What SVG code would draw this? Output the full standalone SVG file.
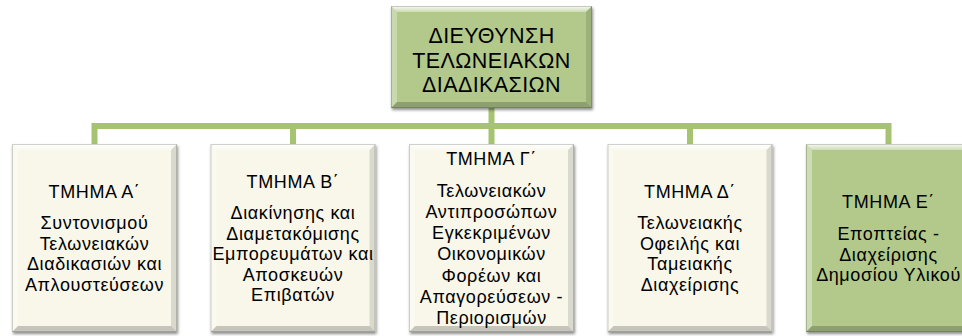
<svg xmlns="http://www.w3.org/2000/svg" xmlns:xlink="http://www.w3.org/1999/xlink" width="962" height="336" viewBox="0 0 962 336">
  <style>
    .t { font-family: "Liberation Sans", Arial, "DejaVu Sans", sans-serif; fill: #000; text-anchor: middle; }
    .head { font-size: 21.5px; letter-spacing: 0.4px; }
    .sub { font-size: 18px; letter-spacing: 0.6px; }
    .ivory { fill: #f8f7ea; }
    .green { fill: #b2c98b; }
    .link { stroke: #a5c371; stroke-width: 6; fill: none; }
  </style>
  <defs>
    <filter id="shadow" x="-10%" y="-10%" width="120%" height="120%">
      <feDropShadow dx="1" dy="2" stdDeviation="1.6" flood-color="#000" flood-opacity="0.45"/>
    </filter>
    <linearGradient id="topLight" x1="0" y1="0" x2="0" y2="1">
      <stop offset="0" stop-color="#fff" stop-opacity="0.9"/>
      <stop offset="1" stop-color="#fff" stop-opacity="0.35"/>
    </linearGradient>
    <!-- bevel overlay for a 165 x 188 department box -->
    <g id="bevelDept">
      <polygon points="0,0 165,0 159,6 6,6" fill="url(#topLight)"/>
      <polygon points="0,0 6,6 6,182 0,188" fill="#fff" fill-opacity="0.35"/>
      <polygon points="165,0 165,188 159,182 159,6" fill="#000" fill-opacity="0.12"/>
      <polygon points="0,188 165,188 159,182 6,182" fill="#000" fill-opacity="0.2"/>
      <rect x="0.5" y="0.5" width="164" height="187" fill="none" stroke="#000" stroke-opacity="0.18"/>
    </g>
    <!-- bevel overlay for the 201 x 102 directorate box -->
    <g id="bevelHead">
      <polygon points="0,0 201,0 195,6 6,6" fill="url(#topLight)"/>
      <polygon points="0,0 6,6 6,96 0,102" fill="#fff" fill-opacity="0.3"/>
      <polygon points="201,0 201,102 195,96 195,6" fill="#000" fill-opacity="0.12"/>
      <polygon points="0,102 201,102 195,96 6,96" fill="#000" fill-opacity="0.2"/>
      <rect x="0.5" y="0.5" width="200" height="101" fill="none" stroke="#000" stroke-opacity="0.18"/>
    </g>
  </defs>

  <rect width="962" height="336" fill="#fff"/>

  <!-- connectors -->
  <g id="connectors">
    <path class="link" d="M491.5,108 V146"/>
    <path class="link" d="M94.5,146 V126 H888.5 V146"/>
    <path class="link" d="M293,126 V146"/>
    <path class="link" d="M690,126 V146"/>
  </g>

  <!-- directorate -->
  <g id="directorate">
    <rect class="green" x="391" y="6" width="201" height="102" filter="url(#shadow)"/>
    <use xlink:href="#bevelHead" href="#bevelHead" transform="translate(391,6)"/>
    <text class="t head" x="491.5" y="43">ΔΙΕΥΘΥΝΣΗ</text>
    <text class="t head" x="491.5" y="67.5">ΤΕΛΩΝΕΙΑΚΩΝ</text>
    <text class="t head" x="491.5" y="92">ΔΙΑΔΙΚΑΣΙΩΝ</text>
  </g>

  <!-- department A -->
  <g id="dept-a">
    <rect class="ivory" x="12" y="144" width="165" height="188" filter="url(#shadow)"/>
    <use xlink:href="#bevelDept" href="#bevelDept" transform="translate(12,144)"/>
    <text class="t sub" x="94.5" y="198">ΤΜΗΜΑ Α΄</text>
    <text class="t sub" x="94.5" y="229">Συντονισμού</text>
    <text class="t sub" x="94.5" y="249.5">Τελωνειακών</text>
    <text class="t sub" x="94.5" y="270">Διαδικασιών και</text>
    <text class="t sub" x="94.5" y="290.5">Απλουστεύσεων</text>
  </g>

  <!-- department B -->
  <g id="dept-b">
    <rect class="ivory" x="210.5" y="144" width="165" height="188" filter="url(#shadow)"/>
    <use xlink:href="#bevelDept" href="#bevelDept" transform="translate(210.5,144)"/>
    <text class="t sub" x="293" y="188">ΤΜΗΜΑ Β΄</text>
    <text class="t sub" x="293" y="219">Διακίνησης και</text>
    <text class="t sub" x="293" y="239.5">Διαμετακόμισης</text>
    <text class="t sub" x="293" y="260">Εμπορευμάτων και</text>
    <text class="t sub" x="293" y="280.5">Αποσκευών</text>
    <text class="t sub" x="293" y="301">Επιβατών</text>
  </g>

  <!-- department C -->
  <g id="dept-c">
    <rect class="ivory" x="409" y="144" width="165" height="188" filter="url(#shadow)"/>
    <use xlink:href="#bevelDept" href="#bevelDept" transform="translate(409,144)"/>
    <text class="t sub" x="491.5" y="165">ΤΜΗΜΑ Γ΄</text>
    <text class="t sub" x="491.5" y="196.5">Τελωνειακών</text>
    <text class="t sub" x="491.5" y="217.8">Αντιπροσώπων</text>
    <text class="t sub" x="491.5" y="239.1">Εγκεκριμένων</text>
    <text class="t sub" x="491.5" y="260.4">Οικονομικών</text>
    <text class="t sub" x="491.5" y="281.7">Φορέων και</text>
    <text class="t sub" x="491.5" y="303">Απαγορεύσεων -</text>
    <text class="t sub" x="491.5" y="324.3">Περιορισμών</text>
  </g>

  <!-- department D -->
  <g id="dept-d">
    <rect class="ivory" x="607.5" y="144" width="165" height="188" filter="url(#shadow)"/>
    <use xlink:href="#bevelDept" href="#bevelDept" transform="translate(607.5,144)"/>
    <text class="t sub" x="690" y="198">ΤΜΗΜΑ Δ΄</text>
    <text class="t sub" x="690" y="229">Τελωνειακής</text>
    <text class="t sub" x="690" y="249.5">Οφειλής και</text>
    <text class="t sub" x="690" y="270">Ταμειακής</text>
    <text class="t sub" x="690" y="290.5">Διαχείρισης</text>
  </g>

  <!-- department E -->
  <g id="dept-e">
    <rect class="green" x="806" y="144" width="165" height="188" filter="url(#shadow)"/>
    <use xlink:href="#bevelDept" href="#bevelDept" transform="translate(806,144)"/>
    <text class="t sub" x="888.5" y="208">ΤΜΗΜΑ Ε΄</text>
    <text class="t sub" x="888.5" y="240">Εποπτείας -</text>
    <text class="t sub" x="888.5" y="260.5">Διαχείρισης</text>
    <text class="t sub" x="888.5" y="281">Δημοσίου Υλικού</text>
  </g>
</svg>
